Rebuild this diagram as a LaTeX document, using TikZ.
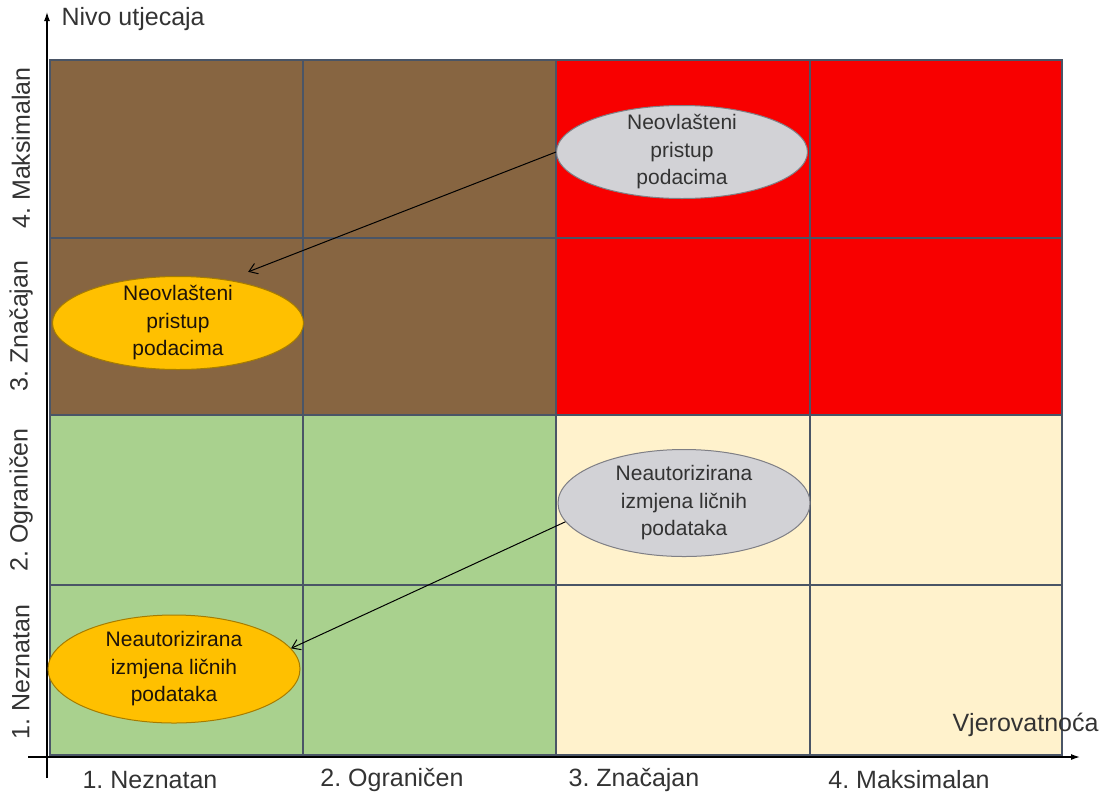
\documentclass[tikz,border=0pt]{standalone}
\usepackage{fontspec}
\setmainfont{Liberation Sans}
\usetikzlibrary{shapes.geometric,arrows.meta,positioning}

\definecolor{brownc}{HTML}{876541}
\definecolor{redc}{HTML}{F80000}
\definecolor{greenc}{HTML}{A9D18E}
\definecolor{creamc}{HTML}{FFF2CC}
\definecolor{gridc}{HTML}{4A5566}
\definecolor{grayfill}{HTML}{D2D2D6}
\definecolor{grayline}{HTML}{7F7F85}
\definecolor{orangefill}{HTML}{FFC000}
\definecolor{orangeline}{HTML}{A67C00}

\frenchspacing
\begin{document}
\begin{tikzpicture}[
    x=1pt, y=-1pt,
    gridline/.style={draw=gridc, line width=1.2pt},
    axis/.style={line width=1.3pt, -{Latex[length=9pt,width=6pt]}},
    axislabel/.style={font=\fontsize{25}{30}\selectfont, text=black!80},
    risk/.style={ellipse, draw, line width=1pt, align=center, inner xsep=0pt, inner ysep=-6pt,
        font=\fontsize{21}{27.5}\selectfont},
    before/.style={risk, fill=grayfill, draw=grayline, text=black!80},
    after/.style={risk, fill=orangefill, draw=orangeline, text=black!85!brown},
    arrow/.style={line width=1pt, ->, >={Straight Barb[length=8pt,width=11pt]}}
]
\useasboundingbox (0,0) rectangle (1105,796);

% coloured zones
\fill[brownc] (50,60) rectangle (556,415);
\fill[redc] (556,60) rectangle (1062,415);
\fill[greenc] (50,415) rectangle (556,755);
\fill[creamc] (556,415) rectangle (1062,755);

% grid
\draw[gridline] (50,60) rectangle (1062,755);
\draw[gridline] (303,60) -- (303,755);
\draw[gridline] (556,60) -- (556,755);
\draw[gridline] (810,60) -- (810,755);
\draw[gridline] (50,238) -- (1062,238);
\draw[gridline] (50,415) -- (1062,415);
\draw[gridline] (50,585) -- (1062,585);

% axes
\coordinate (yfoot) at (47,778);
\coordinate (ytop) at (47,12);
\coordinate (xfoot) at (28,757);
\coordinate (xend) at (1080,757);
\draw[axis] (yfoot) -- (ytop);
\draw[axis] (xfoot) -- (xend);

\node[axislabel, anchor=west] (ytitle) at (58,19) {Nivo utjecaja};
\node[axislabel, anchor=east] (xtitle) at (1102,725) {Vjerovatnoća};

% impact levels
\node[axislabel, rotate=90] (y4) at (21,148) {4. Maksimalan};
\node[axislabel, rotate=90] (y3) at (21,326) {3. Značajan};
\node[axislabel, rotate=90] (y2) at (21,500) {2. Ograničen};
\node[axislabel, rotate=90] (y1) at (21,672) {1. Neznatan};

% probability levels
\node[axislabel] (x1) at (150,780) {1. Neznatan};
\node[axislabel] (x2) at (392,780) {2. Ograničen};
\node[axislabel] (x3) at (634,780) {3. Značajan};
\node[axislabel] (x4) at (909,780) {4. Maksimalan};

% risks before measures
\node[before, minimum width=251pt, minimum height=93pt] (g1) at (682,152) {Neovlašteni\\pristup\\podacima};
\node[before, minimum width=252pt, minimum height=107pt] (g2) at (684,503) {Neautorizirana\\izmjena ličnih\\podataka};

% risks after measures
\node[after, minimum width=251pt, minimum height=93pt] (o1) at (178,323) {Neovlašteni\\pristup\\podacima};
\node[after, minimum width=252pt, minimum height=108pt] (o2) at (174,669) {Neautorizirana\\izmjena ličnih\\podataka};

% moves
\draw[arrow, shorten >=22pt] (g1.west) -- (o1.41);
\draw[arrow] (g2.189) -- (o2.10);

\end{tikzpicture}
\end{document}
